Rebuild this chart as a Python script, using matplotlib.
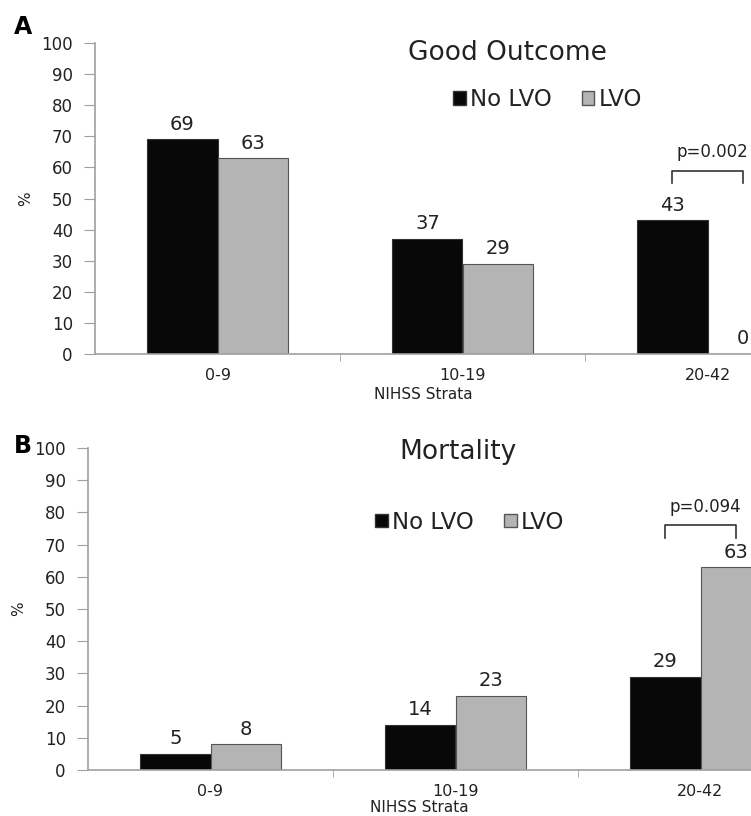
import numpy as np
import matplotlib
matplotlib.use('Agg')
import matplotlib.pyplot as plt
from matplotlib.patches import Patch

# data
strata = ["0-9", "10-19", "20-42"]
good_nolvo = [69, 37, 43]
good_lvo = [63, 29, 0]
mort_nolvo = [5, 14, 29]
mort_lvo = [8, 23, 63]
pval_good = "p=0.002"
pval_mort = "p=0.094"

plt.rcParams['font.family'] = ['DejaVu Sans']

W, H = 751, 816
fig = plt.figure(figsize=(W/100, H/100), dpi=100)

black = '#080808'
grey = '#b4b4b4'
axc = '#a0a0a0'
txtc = '#222222'
bw = 0.286


def panel(rect, xmax, nolvo, lvo, title, tpos, legpos, pval, br, letter, lpos, xlpad):
  ax = fig.add_axes(rect)
  x = np.arange(len(strata))
  b1 = ax.bar(x - bw/2, nolvo, bw, color=black, edgecolor='#333333', linewidth=0.8)
  b2 = ax.bar(x + bw/2, lvo, bw, color=grey, edgecolor='#555555', linewidth=0.8)
  for bars, vals in ((b1, nolvo), (b2, lvo)):
    for r, v in zip(bars, vals):
      ax.annotate(str(v), (r.get_x() + r.get_width()/2, v), xytext=(0, 4),
                  textcoords='offset points', ha='center', va='bottom',
                  fontsize=14, color=txtc, annotation_clip=False)
  ax.set_xlim(-0.5, xmax)
  ax.set_ylim(0, 100)
  ax.set_yticks(range(0, 101, 10))
  ax.set_xticks(x)
  ax.set_xticklabels(strata)
  ax.set_xticks([0.5, 1.5], minor=True)
  ax.tick_params(axis='x', which='major', length=0, pad=10, labelsize=11.5, colors=txtc)
  ax.tick_params(axis='x', which='minor', length=5, color=axc, direction='out')
  ax.tick_params(axis='y', length=8, color=axc, labelsize=12, colors=txtc, pad=8)
  for s in ('top', 'right'):
    ax.spines[s].set_visible(False)
  for s in ('left', 'bottom'):
    ax.spines[s].set_color(axc)
    ax.spines[s].set_linewidth(1.2)
  ax.set_xlabel("NIHSS Strata", fontsize=11, color=txtc, labelpad=xlpad)
  ax.set_ylabel("%", fontsize=11, color=txtc, labelpad=6)
  ax.text(tpos[0], tpos[1], title, transform=ax.transAxes, ha='center', va='center',
          fontsize=19, color=txtc)
  handles = [Patch(facecolor=black, edgecolor='#333333'),
             Patch(facecolor=grey, edgecolor='#555555')]
  ax.legend(handles, ["No LVO", "LVO"], ncol=2, frameon=False, loc='center',
            bbox_to_anchor=legpos, fontsize=16.5, handlelength=0.55, handleheight=0.55,
            handletextpad=0.2, columnspacing=1.3, labelcolor=txtc)
  # significance bracket
  x0, x1, ylo, yhi = br
  ax.plot([x0, x0, x1, x1], [ylo, yhi, yhi, ylo], color='#333333', lw=1.2, clip_on=False)
  ax.text((x0 + x1)/2 + 0.02, yhi + 3, pval, ha='center', va='bottom', fontsize=12,
          color=txtc, clip_on=False)
  fig.text(lpos[0], lpos[1], letter, fontsize=17, fontweight='bold', color='black',
           ha='left', va='center')
  return ax


# panel A
top_left = 95
panel([top_left/W, (H-354)/H, (W-top_left)/W, 311/H], (W-top_left)/245 - 0.5,
      good_nolvo, good_lvo, "Good Outcome", (0.628, 0.968), (0.69, 0.817),
      pval_good, (1.857, 2.143, 55, 59), "A", (14/W, 1 - 27/H), 3)

# panel B
bot_left = 88
panel([bot_left/W, (H-770)/H, (W-bot_left)/W, 322/H], (W-bot_left)/245 - 0.5,
      mort_nolvo, mort_lvo, "Mortality", (0.558, 0.988), (0.576, 0.77),
      pval_mort, (1.857, 2.143, 72, 76), "B", (14/W, 1 - 446/H), 1)

fig.savefig("out.png", dpi=100)
